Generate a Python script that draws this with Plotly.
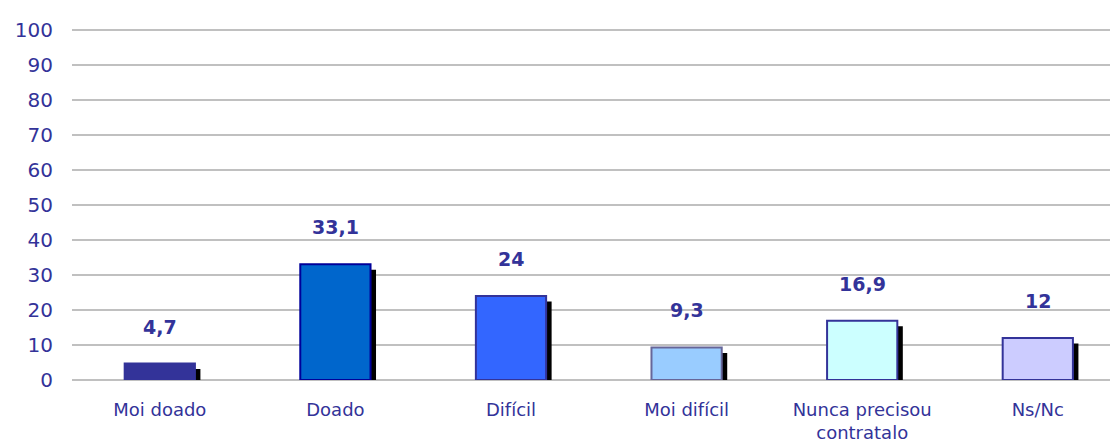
import plotly.graph_objects as go

categories = ["Moi doado", "Doado", "Difícil", "Moi difícil", "Nunca precisou<br>contratalo", "Ns/Nc"]
values = [4.7, 33.1, 24, 9.3, 16.9, 12]
value_labels = ["4,7", "33,1", "24", "9,3", "16,9", "12"]
fill_colors = ["#333399", "#0066CC", "#3366FF", "#99CCFF", "#CCFFFF", "#CCCCFF"]
line_colors = ["#333399", "#000099", "#333399", "#666699", "#333399", "#333399"]

TEXT = "#333399"
FONT = "Verdana, DejaVu Sans, sans-serif"
xs = list(range(len(categories)))

# page body has an 8px default margin; figure is sized to fit the window
PAGE_OFF = 8
FIG_W, FIG_H = 1118 - PAGE_OFF, 442 - PAGE_OFF

px_per_cat = 175.6
px_per_unit = 3.507
shadow_dx = 5.5 / px_per_cat
shadow_dy = 5.5 / px_per_unit
bar_w = 0.40
y_top = 100.6

fig = go.Figure()
# shadows
fig.add_trace(go.Bar(
    x=xs, y=[v - shadow_dy for v in values],
    width=bar_w, offset=-bar_w / 2 + shadow_dx,
    marker=dict(color="#000000", line=dict(width=0)),
    hoverinfo="skip", showlegend=False,
))
# main bars
fig.add_trace(go.Bar(
    x=xs, y=values,
    width=bar_w, offset=-bar_w / 2,
    marker=dict(color=fill_colors, line=dict(color=line_colors, width=2)),
    showlegend=False,
))

for x, v, t in zip(xs, values, value_labels):
    fig.add_annotation(x=x, y=v, text="<b>%s</b>" % t, showarrow=False,
                       yshift=37, yanchor="middle",
                       font=dict(family=FONT, size=19, color=TEXT))

zero_y = 380.5 - PAGE_OFF
plot_h = y_top * px_per_unit
left = 72 - PAGE_OFF
fig.update_layout(
    width=FIG_W, height=FIG_H,
    margin=dict(l=left, r=0, t=zero_y - plot_h, b=FIG_H - zero_y),
    barmode="overlay",
    plot_bgcolor="white", paper_bgcolor="white",
    font=dict(family=FONT, color=TEXT),
    xaxis=dict(
        range=[-0.5, -0.5 + (FIG_W - left) / px_per_cat],
        tickmode="array", tickvals=xs, ticktext=categories,
        tickfont=dict(family=FONT, size=18, color=TEXT),
        showgrid=False, zeroline=False, showline=False, ticks="",
        ticklabelstandoff=17, automargin=False,
    ),
    yaxis=dict(
        range=[0, y_top], dtick=10, tick0=0,
        tickfont=dict(family=FONT, size=20, color=TEXT),
        showgrid=True, gridcolor="#C0C0C0", gridwidth=2,
        zeroline=True, zerolinecolor="#C0C0C0", zerolinewidth=2,
        showline=False, ticks="", ticklabelstandoff=18, automargin=False,
    ),
)

fig.write_html("out.html")
